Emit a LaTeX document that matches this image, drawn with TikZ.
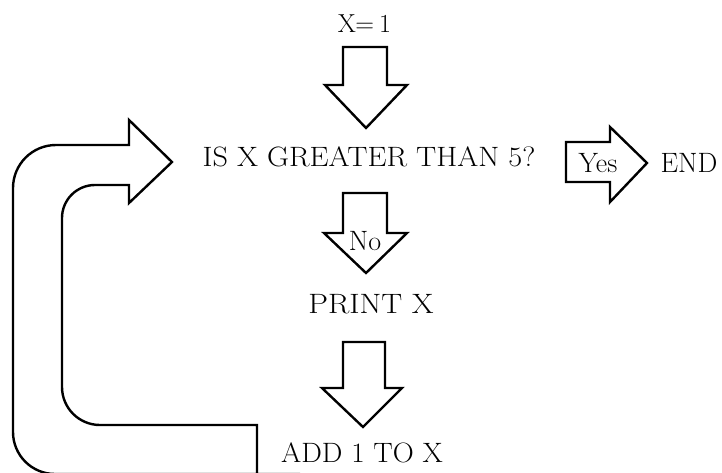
\documentclass[tikz,border=0pt]{standalone}
\begin{document}
\begin{tikzpicture}[x=1pt,y=-1pt,
  lbl/.style={inner sep=0pt,anchor=base,font=\fontsize{28}{32}\selectfont},
  blk/.style={line width=2.4pt,line join=miter,fill=white}]
\useasboundingbox (0,0) rectangle (722,472);
\clip (0,0) rectangle (722,472);
% texts
\node[lbl,font=\fontsize{26}{30}\selectfont] (x1) at (364.5,32) {X\kern-0.5pt=\kern5pt1};
\node[lbl,xscale=1.08] (q) at (369,166) {IS X GREATER THAN 5?};
\node[lbl] (endn) at (689,172) {END};
\node[lbl,xscale=1.12] (pr) at (371,313) {PRINT X};
\node[lbl,xscale=1.04] (add) at (362,462) {ADD 1 TO X};
% top arrow
\draw[blk] (343,47) -- (387,47) -- (387,85) -- (407,85) -- (366,128) -- (325,85) -- (343,85) -- cycle;
% No arrow
\draw[blk] (343,193) -- (387,193) -- (387,233) -- (407,233) -- (366,273) -- (324,233) -- (343,233) -- cycle;
\node[lbl] (no) at (365,250) {No};
% bottom arrow
\draw[blk] (343,342) -- (385,342) -- (385,388) -- (402,388) -- (363,427) -- (322,388) -- (343,388) -- cycle;
% Yes arrow
\draw[blk] (566,142) -- (610,142) -- (610,127) -- (647,163) -- (610,202) -- (610,182) -- (566,182) -- cycle;
\node[lbl] (yes) at (598,172) {Yes};
% loop arrow
\draw[blk,fill=none]
  (257,480) -- (257,425) -- (100,425) arc[start angle=90,end angle=180,radius=38] -- (62,218)
  arc[start angle=180,end angle=270,radius=33] -- (129,185) -- (129,203) -- (172,162) -- (129,120) -- (129,145)
  -- (56,145) arc[start angle=270,end angle=180,radius=43] -- (13,432) arc[start angle=180,end angle=90,radius=42] -- (300,474);
\end{tikzpicture}
\end{document}
